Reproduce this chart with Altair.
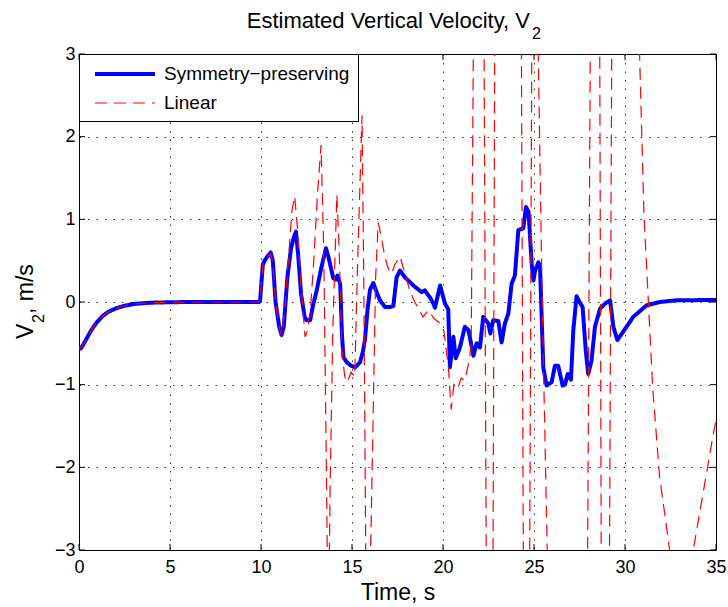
import altair as alt
import pandas as pd

# ---------------- data ----------------
series_names = ["Symmetry\u2212preserving", "Linear"]

# common initial transient (both estimators coincide)
t_start = [0.0, 0.1, 0.2, 0.4, 0.6, 0.8, 1.0, 1.3, 1.6, 2.0, 2.5, 3.0, 3.5, 4.0, 5.0, 6.0, 9.9]
v_start = [-0.55, -0.56, -0.53, -0.45, -0.37, -0.30, -0.24, -0.17, -0.12, -0.08, -0.045,
           -0.025, -0.015, -0.008, -0.003, 0.0, 0.0]

# Symmetry-preserving estimate after t = 9.9 s
t_sym = [9.95, 10.1, 10.2, 10.35, 10.53, 10.65, 10.8, 11.0, 11.13, 11.25, 11.45, 11.65, 11.8,
         11.92, 12.05, 12.2, 12.4, 12.5, 12.7, 12.85, 13.06, 13.3, 13.57, 13.7, 13.97, 14.1,
         14.2, 14.35, 14.45, 14.53, 14.72, 14.95, 15.17, 15.44, 15.6, 15.71, 15.85, 15.99,
         16.17, 16.35, 16.54, 16.81, 17.1, 17.27, 17.45, 17.64, 17.9, 18.37, 18.83, 19.0,
         19.3, 19.47, 19.56, 19.84, 20.11, 20.29, 20.38, 20.57, 20.7, 20.93, 21.2, 21.4,
         21.67, 21.85, 22.03, 22.21, 22.49, 22.6, 22.76, 23.04, 23.22, 23.4, 23.59, 23.77,
         23.95, 24.14, 24.41, 24.56, 24.7, 24.87, 24.97, 25.06, 25.24, 25.33, 25.51, 25.69,
         25.97, 26.15, 26.33, 26.57, 26.7, 26.85, 27.03, 27.16, 27.34, 27.5, 27.67, 27.85,
         27.98, 28.16, 28.35, 28.63, 28.9, 29.18, 29.36, 29.58, 29.9, 30.45, 31.19, 31.92,
         32.8, 35.0]
v_sym = [0.02, 0.45, 0.5, 0.55, 0.6, 0.5, 0.0, -0.3, -0.4, -0.3, 0.3, 0.65, 0.78,
         0.85, 0.55, 0.1, -0.18, -0.22, -0.22, -0.05, 0.14, 0.4, 0.65, 0.55, 0.29, 0.27,
         0.32, 0.22, -0.4, -0.67, -0.73, -0.77, -0.79, -0.73, -0.6, -0.46, -0.1, 0.15,
         0.23, 0.12, 0.02, -0.06, -0.06, -0.05, 0.3, 0.38, 0.3, 0.2, 0.12, 0.14,
         0.05, -0.02, -0.07, 0.2, -0.02, -0.09, -0.79, -0.42, -0.68, -0.55, -0.3, -0.34,
         -0.65, -0.5, -0.55, -0.18, -0.26, -0.38, -0.22, -0.23, -0.49, -0.26, -0.14, 0.22,
         0.32, 0.87, 0.89, 1.15, 1.09, 0.47, 0.26, 0.38, 0.48, 0.44, -0.79, -1.01,
         -0.97, -0.77, -0.77, -1.01, -1.0, -0.87, -0.94, -0.34, 0.07, 0.0, -0.06, -0.6,
         -0.87, -0.71, -0.3, -0.08, -0.02, 0.02, -0.3, -0.46, -0.36, -0.18, -0.04, 0.0,
         0.02, 0.025]

# Linear estimate after t = 9.9 s (leaves the +/-3 window many times)
t_lin = [9.95, 10.1, 10.2, 10.35, 10.53, 10.65, 10.8, 11.0, 11.13, 11.3, 11.5, 11.7, 11.85,
         12.0, 12.2, 12.42, 12.55, 12.7, 12.9, 13.1, 13.3, 13.45, 13.58, 13.7, 13.8, 13.95,
         14.17, 14.3, 14.45, 14.6, 14.75, 14.95, 15.15, 15.3, 15.55, 15.65, 15.78, 15.9,
         16.05, 16.17, 16.3, 16.44, 16.6, 16.8, 17.0, 17.17, 17.35, 17.64, 17.9, 18.2,
         18.45, 18.7, 18.9, 19.2, 19.5, 19.8, 20.05, 20.3, 20.45, 20.6, 20.8, 21.0, 21.2,
         21.45, 21.55, 21.7, 22.0, 22.2, 22.45, 22.6, 22.72, 22.9, 23.5, 24.25, 24.48,
         24.6, 24.72, 24.95, 25.05, 25.15, 25.45, 25.8, 26.3, 27.0, 27.7, 27.9, 28.15,
         28.35, 28.58, 28.72, 28.9, 29.12, 29.3, 29.6, 30.2, 30.6, 30.8, 31.04, 31.28,
         31.52, 31.89, 32.45, 32.8, 33.1, 33.4, 33.75, 34.3, 34.85, 35.0]
v_lin = [0.02, 0.45, 0.5, 0.55, 0.58, 0.48, 0.0, -0.3, -0.4, -0.1, 0.5, 1.1, 1.28,
         0.9, 0.2, -0.42, -0.35, -0.15, 0.5, 1.3, 1.9, 0.6, -1.8, -4.2, -2.2, -0.3,
         1.3, 0.6, -0.6, -0.9, -0.97, -0.85, -0.9, 0.4, 2.26, 0.2, -3.8, -4.2,
         -2.7, -1.27, 0.3, 0.96, 0.8, 0.55, 0.4, 0.34, 0.45, 0.55, 0.35, 0.12,
         0.0, -0.1, -0.18, -0.1, -0.2, -0.25, -0.35, -0.8, -1.3, -1.0, -1.05, -0.92, -0.95,
         -0.7, -0.5, 4.0, 7.0, 6.0, -7.0, -7.5, -5.0, 7.0, 9.0, 6.5, -7.0,
         -8.0, -5.5, 7.0, 7.5, 4.2, 0.0, -3.8, -6.5, -8.0, -6.5, -5.0, 5.5,
         7.0, 5.5, -5.0, -7.0, -4.5, 4.5, 7.0, 7.0, 4.2, 3.0, 1.07, 0.02,
         -1.03, -2.09, -3.0, -3.4, -3.6, -3.4, -3.0, -2.3, -1.6, -1.42]

x_ticks = [0, 5, 10, 15, 20, 25, 30, 35]
y_ticks = [-3, -2, -1, 0, 1, 2, 3]

title_main = "Estimated Vertical Velocity, V"
title_sub = "2"
x_label = "Time, s"
y_label_main = "V"
y_label_sub = "2"
y_label_rest = ", m/s"

# ---------------- tables ----------------
df = pd.concat([
    pd.DataFrame({"t": t_start + t_sym, "v": v_start + v_sym, "series": series_names[0]}),
    pd.DataFrame({"t": t_start + t_lin, "v": v_start + v_lin, "series": series_names[1]}),
], ignore_index=True)
df_xt = pd.DataFrame({"t": x_ticks})
df_yt = pd.DataFrame({"v": y_ticks})
one = pd.DataFrame({"k": [0]})

W, H = 637, 496
FONT = "Liberation Sans"

common_axis = dict(domain=False, ticks=False, tickSize=0, grid=True,
                   gridColor="black", gridOpacity=0.8, gridWidth=1, gridDash=[1.5, 7],
                   labelFont=FONT, labelFontSize=18, labelColor="black",
                   labelFlush=False, labelOverlap=False, labelBound=False, format="d")

x_enc = alt.X("t:Q",
              scale=alt.Scale(domain=[0, 35], nice=False, zero=False),
              axis=alt.Axis(values=x_ticks, title=x_label,
                            titleFont=FONT, titleFontSize=23, titleFontWeight="normal",
                            titleColor="black", titleBaseline="alphabetic", titleY=49,
                            labelPadding=8, **common_axis))
y_enc = alt.Y("v:Q",
              scale=alt.Scale(domain=[-3, 3], nice=False, zero=False),
              axis=alt.Axis(values=y_ticks, title=None, labelPadding=4, **common_axis))

color_enc = alt.Color("series:N",
                      scale=alt.Scale(domain=series_names, range=["#0000ff", "#ff0000"]),
                      legend=alt.Legend(title=None, orient="none", legendX=0, legendY=0,
                                        symbolType="M-0.4,0H5.6", symbolSize=400,
                                        labelFont=FONT, labelFontSize=19, labelColor="black",
                                        labelOffset=53, fillColor="white", strokeColor="black",
                                        padding=8, rowPadding=8, labelLimit=400))
dash_enc = alt.StrokeDash("series:N",
                          scale=alt.Scale(domain=series_names, range=[[1, 0], [12, 7]]))
width_enc = alt.StrokeWidth("series:N",
                            scale=alt.Scale(domain=series_names, range=[4, 1.2]))

sym_line = alt.Chart(df).transform_filter(
    alt.datum.series == series_names[0]
).mark_line(clip=True, strokeJoin="round", strokeCap="round").encode(
    x=x_enc, y=y_enc, color=color_enc, strokeDash=dash_enc, strokeWidth=width_enc
)
lin_line = alt.Chart(df).transform_filter(
    alt.datum.series == series_names[1]
).mark_line(clip=True).encode(
    x="t:Q", y="v:Q", color=color_enc, strokeDash=dash_enc, strokeWidth=width_enc
)

# inward tick marks on all four sides of the box
tick_style = dict(color="black", strokeWidth=1)
ticks_b = alt.Chart(df_xt).mark_rule(**tick_style).encode(x="t:Q", y=alt.value(H), y2=alt.value(H - 6))
ticks_t = alt.Chart(df_xt).mark_rule(**tick_style).encode(x="t:Q", y=alt.value(0), y2=alt.value(6))
ticks_l = alt.Chart(df_yt).mark_rule(**tick_style).encode(y="v:Q", x=alt.value(0), x2=alt.value(6))
ticks_r = alt.Chart(df_yt).mark_rule(**tick_style).encode(y="v:Q", x=alt.value(W), x2=alt.value(W - 6))

# title with subscript
t_main = alt.Chart(one).mark_text(font=FONT, fontSize=22, align="right", baseline="alphabetic",
                                  color="black").encode(
    x=alt.value(451), y=alt.value(-26.5), text=alt.value(title_main))
t_sub = alt.Chart(one).mark_text(font=FONT, fontSize=16, align="left", baseline="alphabetic",
                                 color="black").encode(
    x=alt.value(453), y=alt.value(-15), text=alt.value(title_sub))

# rotated y label with subscript
yl_main = alt.Chart(one).mark_text(font=FONT, fontSize=23, angle=270, align="left",
                                   baseline="alphabetic", color="black").encode(
    x=alt.value(-46), y=alt.value(285), text=alt.value(y_label_main))
yl_sub = alt.Chart(one).mark_text(font=FONT, fontSize=16, angle=270, align="left",
                                  baseline="alphabetic", color="black").encode(
    x=alt.value(-35), y=alt.value(269), text=alt.value(y_label_sub))
yl_rest = alt.Chart(one).mark_text(font=FONT, fontSize=23, angle=270, align="left",
                                   baseline="alphabetic", color="black").encode(
    x=alt.value(-46), y=alt.value(260), text=alt.value(y_label_rest))

chart = alt.layer(
    sym_line, lin_line, ticks_b, ticks_t, ticks_l, ticks_r,
    t_main, t_sub, yl_main, yl_sub, yl_rest
).properties(
    width=W, height=H,
    background="white",
    autosize=alt.AutoSizeParams(type="none"),
    padding={"left": 79, "top": 54, "right": 12, "bottom": 57},
).configure_view(
    stroke="black", strokeWidth=1
)

chart.save("out.html", embed_options={"renderer": "svg", "actions": False})
